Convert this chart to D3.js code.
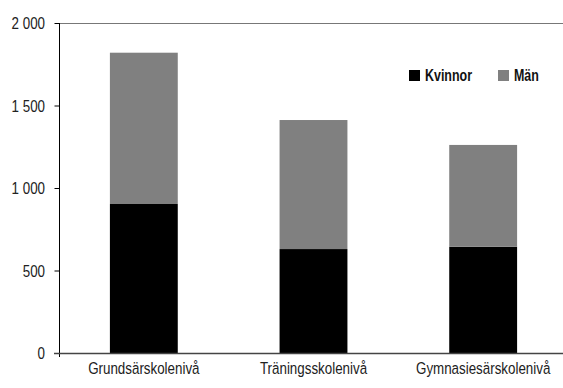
<!DOCTYPE html>
<html><head><meta charset="utf-8">
<script src="https://cdn.jsdelivr.net/npm/d3@7/dist/d3.min.js"></script>
<style>
body{margin:0;background:#fff;}
text{font-family:"Liberation Sans",Arial,sans-serif;}
</style></head>
<body>
<svg id="c" width="563" height="388"></svg>
<script>
const categories = ["Grundsärskolenivå","Träningsskolenivå","Gymnasiesärskolenivå"];
const kvinnor = [903, 630, 644];
const man = [917, 782, 617];
const seriesNames = ["Kvinnor","Män"];
const seriesColors = ["#000000","#808080"];
const yTicks = [0,500,1000,1500,2000];
const fmt = v => d3.format(",")(v).replace(/,/g," ");

const FS = 16.5, SX = 0.81, SXB = 0.755;
const svg = d3.select("#c");
const mLeft = 59, mTop = 23, mBottom = 353, mRight = 568;
const x = d3.scaleBand().domain(categories).range([mLeft, mRight]).paddingInner(0.6).paddingOuter(0.3);
const y = d3.scaleLinear().domain([0,2000]).range([mBottom, mTop]);

const data = categories.map((c,i)=>({cat:c, vals:[kvinnor[i], man[i]]}));
const stack = d3.stack().keys([0,1]).value((d,k)=>d.vals[k])(data);

// top border
svg.append("line").attr("x1",mLeft).attr("x2",563).attr("y1",y(2000)+0.5).attr("y2",y(2000)+0.5)
  .attr("stroke","#777").attr("stroke-width",1.2);

stack.forEach((s,k)=>{
  svg.append("g").selectAll("rect").data(s).enter().append("rect")
    .attr("x",d=>x(d.data.cat))
    .attr("width",x.bandwidth())
    .attr("y",d=>y(d[1]))
    .attr("height",d=>y(d[0])-y(d[1]))
    .attr("fill",seriesColors[k]);
});

// y axis
const ya = svg.append("g").attr("transform",`translate(${mLeft+0.5},0)`)
  .call(d3.axisLeft(y).tickValues(yTicks).tickSize(5).tickPadding(9).tickFormat(fmt));
ya.select(".domain").remove();
ya.selectAll(".tick line").attr("stroke","#000");
ya.selectAll(".tick text").attr("font-size",FS).attr("fill","#222")
  .attr("x",-14.5/SX).attr("dy","0.36em").attr("transform",`scale(${SX},1)`);
svg.append("line").attr("x1",mLeft+0.5).attr("x2",mLeft+0.5).attr("y1",mTop).attr("y2",mBottom+4)
  .attr("stroke","#000").attr("stroke-width",1);

// x axis line
svg.append("line").attr("x1",54).attr("x2",563).attr("y1",mBottom+0.5).attr("y2",mBottom+0.5)
  .attr("stroke","#444").attr("stroke-width",1.5);

// x labels
const xa = svg.append("g").attr("transform",`translate(0,${mBottom})`)
  .call(d3.axisBottom(x).tickSize(0).tickPadding(16));
xa.select(".domain").remove();
xa.selectAll(".tick text").attr("font-size",FS).attr("fill","#222")
  .attr("y",21.5).attr("dy",0).attr("transform",`scale(${SX},1)`);

// legend
const legX = [409, 498];
seriesNames.forEach((n,i)=>{
  svg.append("rect").attr("x",legX[i]).attr("y",70).attr("width",11).attr("height",11).attr("fill",seriesColors[i]);
  svg.append("g").attr("transform",`translate(${legX[i]+16},81) scale(${SXB},1)`)
    .append("text").attr("font-size",FS).attr("font-weight","bold")
    .attr("fill","#111").text(n);
});
</script>
</body></html>
